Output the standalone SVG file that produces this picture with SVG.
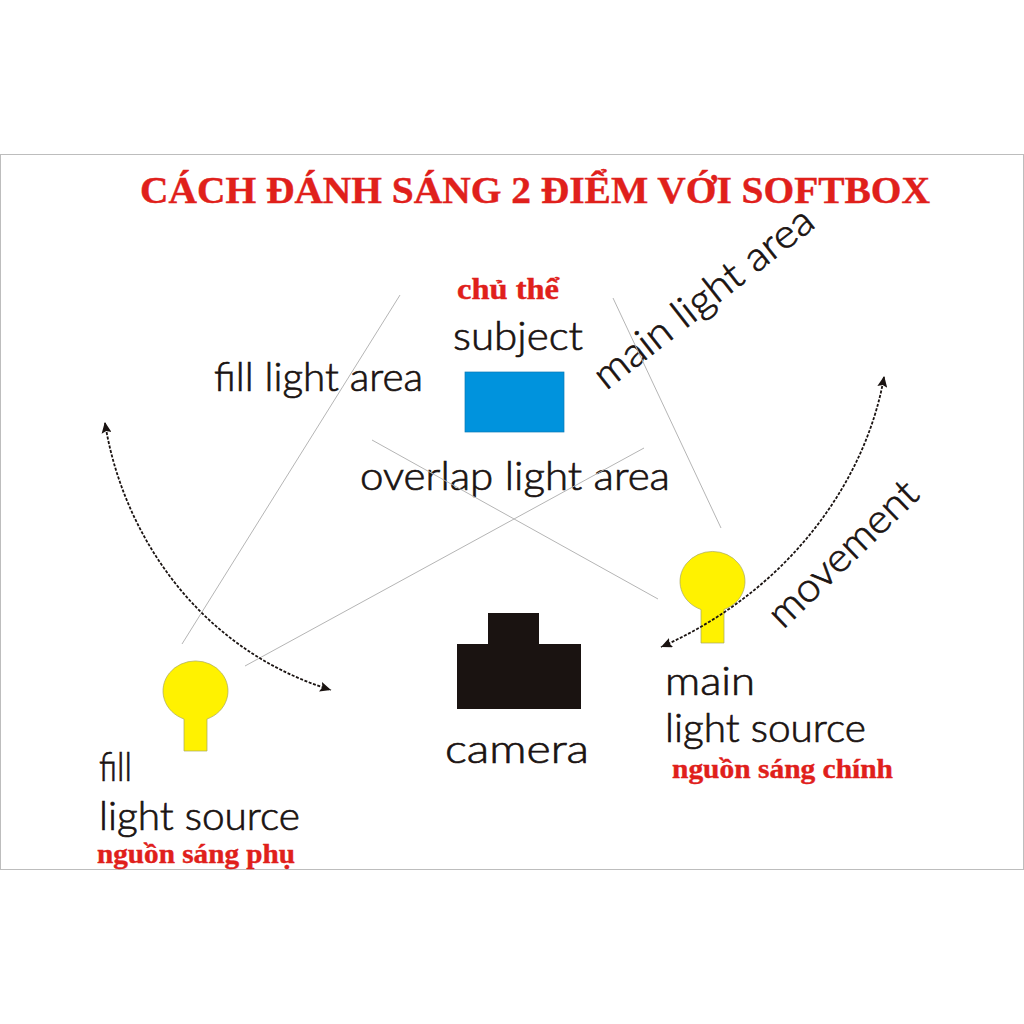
<svg xmlns="http://www.w3.org/2000/svg" width="1024" height="1024" viewBox="0 0 1024 1024">
<defs>
<marker id="ah" markerWidth="14" markerHeight="12" refX="11" refY="5" orient="auto" markerUnits="userSpaceOnUse"><path d="M0 0L11 5L0 10L2 5Z" fill="#1a1311"/></marker>
<marker id="as" markerWidth="14" markerHeight="12" refX="1" refY="5" orient="auto" markerUnits="userSpaceOnUse"><path d="M11 0L0 5L11 10L9 5Z" fill="#1a1311"/></marker>
</defs>
<style>
.r{font-family:"Liberation Serif",serif;font-weight:bold;fill:#e0201b;stroke:#e0201b;stroke-width:.4}
.b{font-family:"Lato",sans-serif;font-weight:300;fill:#1a1311;font-size:40px;stroke:#1a1311;stroke-width:.7}
.l{stroke:#b5b5b5;stroke-width:1;fill:none}
.d{stroke:#1a1311;stroke-width:1.8;stroke-dasharray:3 1.6;fill:none;marker-end:url(#ah);marker-start:url(#as)}
.y{fill:#fff200;stroke:#a8a860;stroke-width:.7}
</style>
<rect width="1024" height="1024" fill="#fff"/>
<rect x="0.5" y="154.500" width="1023" height="715" fill="#fff" stroke="#bdbdbd"/>
<text class="r" x="140" y="203" font-size="38.500" textLength="790" lengthAdjust="spacingAndGlyphs">CÁCH ĐÁNH SÁNG 2 ĐIỂM VỚI SOFTBOX</text>
<g id="subject"><text class="r" x="457" y="299" font-size="29" textLength="102" lengthAdjust="spacingAndGlyphs">chủ thể</text><text class="b" x="453" y="350" textLength="130" lengthAdjust="spacingAndGlyphs">subject</text><rect x="465" y="372" width="99" height="60" fill="#0093dd" stroke="#0a7ab5" stroke-width=".7"/></g>
<g id="fill-area"><text class="b" x="214" y="391" textLength="209" lengthAdjust="spacingAndGlyphs">fill light area</text></g>
<g id="overlap-area"><text class="b" x="360" y="490" textLength="310" lengthAdjust="spacingAndGlyphs">overlap light area</text></g>
<g id="main-area"><text class="b" transform="translate(606 391) rotate(-38)" textLength="268" lengthAdjust="spacingAndGlyphs">main light area</text></g>
<g id="movement"><text class="b" transform="translate(783 630) rotate(-44)" textLength="192" lengthAdjust="spacingAndGlyphs">movement</text></g>
<g id="main-light"><path class="y" d="M701 609.500A32.500 30 0 1 1 724 609.500V643H701Z"/><text class="b" x="665" y="695" textLength="90" lengthAdjust="spacingAndGlyphs">main</text><text class="b" x="665" y="742" textLength="201" lengthAdjust="spacingAndGlyphs">light source</text><text class="r" x="672" y="778" font-size="28" textLength="221" lengthAdjust="spacingAndGlyphs">nguồn sáng chính</text></g>
<g id="fill-light"><path class="y" d="M184 719A32.500 30 0 1 1 207 719V751H184Z"/><text class="b" x="99" y="781" textLength="33" lengthAdjust="spacingAndGlyphs">fill</text><text class="b" x="99" y="830" textLength="201" lengthAdjust="spacingAndGlyphs">light source</text><text class="r" x="97" y="863" font-size="28" textLength="198" lengthAdjust="spacingAndGlyphs">nguồn sáng phụ</text></g>
<g id="camera"><path d="M457 644H488V613H539V644H581V709H457Z" fill="#1a1311"/><text class="b" x="445" y="763" textLength="144" lengthAdjust="spacingAndGlyphs">camera</text></g>
<g id="connectors">
<path class="l" d="M400 295L182 644M613 298L721 528M372 440L658 599M644 448L245 666"/>
<path class="d" d="M105 423C122 530 195 648 331 690"/>
<path class="d" d="M884 377C866 480 790 590 661 647"/>
</g>
</svg>
